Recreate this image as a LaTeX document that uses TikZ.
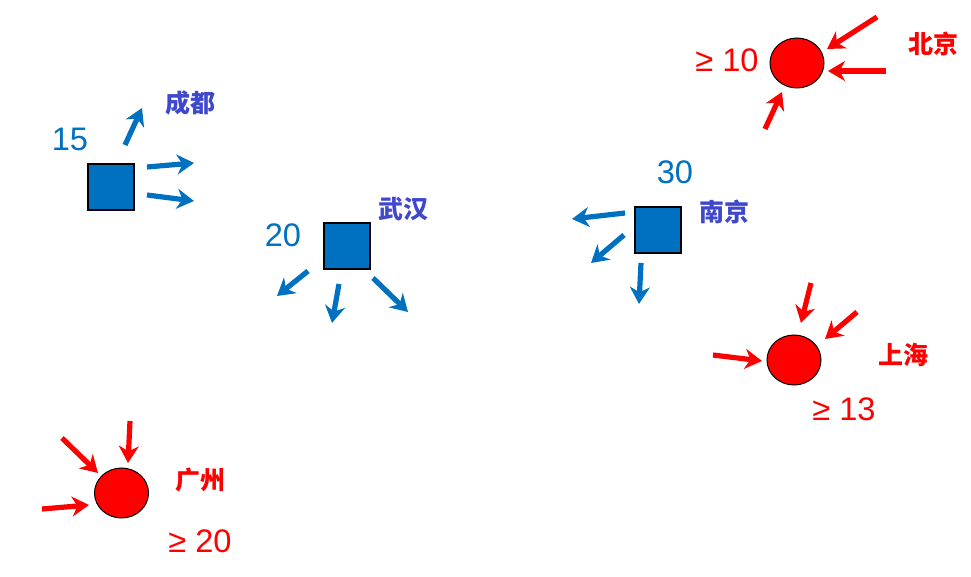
\documentclass[tikz,border=0pt]{standalone}
\usepackage{fontspec}
\setmainfont{Liberation Sans}
\newfontfamily\cjk{Noto Sans CJK SC}
\usetikzlibrary{arrows.meta,shapes.geometric}

\definecolor{srcblue}{HTML}{0070C0}
\definecolor{cityblue}{HTML}{3F48CC}
\definecolor{sinkred}{HTML}{FF0000}

\begin{document}
\begin{tikzpicture}[x=0.5pt, y=-0.5pt,
    supply/.style={draw=black, line width=1pt, fill=srcblue,
      minimum size=23pt, inner sep=0pt},
    demand/.style={ellipse, draw=black, line width=0.5pt, fill=sinkred,
      minimum width=27pt, minimum height=25pt, inner sep=0pt},
    amount/.style={font=\fontsize{16.3}{16}\selectfont},
    cityname/.style={font=\cjk\bfseries\fontsize{12.5}{12.5}\selectfont},
    flow/.style={line width=2.6pt,
      -{Stealth[length=8.5pt, width=10pt, inset=2.7pt]}},
    outflow/.style={flow, color=srcblue},
    inflow/.style={flow, color=sinkred}]

  \useasboundingbox (0,0) rectangle (971,577);

  % supply points
  \node[supply] (chengdu) at (110.5,187) {};
  \node[supply] (wuhan)   at (346.5,246) {};
  \node[supply] (nanjing) at (657.5,230.5) {};

  \node[amount, text=srcblue] (chengduN) at (70,139) {15};
  \node[amount, text=srcblue] (wuhanN)   at (283,235) {20};
  \node[amount, text=srcblue] (nanjingN) at (675,172) {30};

  \node[cityname, text=cityblue] (chengduL) at (190,103) {成都};
  \node[cityname, text=cityblue] (wuhanL)   at (403,209) {武汉};
  \node[cityname, text=cityblue] (nanjingL) at (724,212) {南京};

  % demand points
  \node[demand] (beijing)   at (797,63) {};
  \node[demand] (shanghai)  at (794,360) {};
  \node[demand] (guangzhou) at (121.5,493) {};

  \node[amount, text=sinkred] (beijingN)   at (727,60)  {≥ 10};
  \node[amount, text=sinkred] (shanghaiN)  at (844,409) {≥ 13};
  \node[amount, text=sinkred] (guangzhouN) at (200,541) {≥ 20};

  \node[cityname, text=sinkred] (beijingL)   at (933,44)  {北京};
  \node[cityname, text=sinkred] (shanghaiL)  at (903,355) {上海};
  \node[cityname, text=sinkred] (guangzhouL) at (200,480) {广州};

  % outgoing flows
  \draw[outflow] (125,145) -- (142,108);
  \draw[outflow] (147,167) -- (194,163);
  \draw[outflow] (147,195) -- (194,201);

  \draw[outflow] (308,271) -- (277,296);
  \draw[outflow] (339,284) -- (332,323);
  \draw[outflow] (373,278) -- (408,312);

  \draw[outflow] (625,213) -- (572,219);
  \draw[outflow] (624,235) -- (591,263);
  \draw[outflow] (641,263) -- (639,304);

  % incoming flows
  \draw[inflow] (877,17)  -- (827,49);
  \draw[inflow] (886,71)  -- (828,71);
  \draw[inflow] (765,129) -- (782,92);

  \draw[inflow] (811,283) -- (801,323);
  \draw[inflow] (857,312) -- (825,339);
  \draw[inflow] (713,355) -- (762,361);

  \draw[inflow] (62,438)  -- (98,473);
  \draw[inflow] (130,421) -- (128,463);
  \draw[inflow] (42,509)  -- (89,505);

\end{tikzpicture}
\end{document}
